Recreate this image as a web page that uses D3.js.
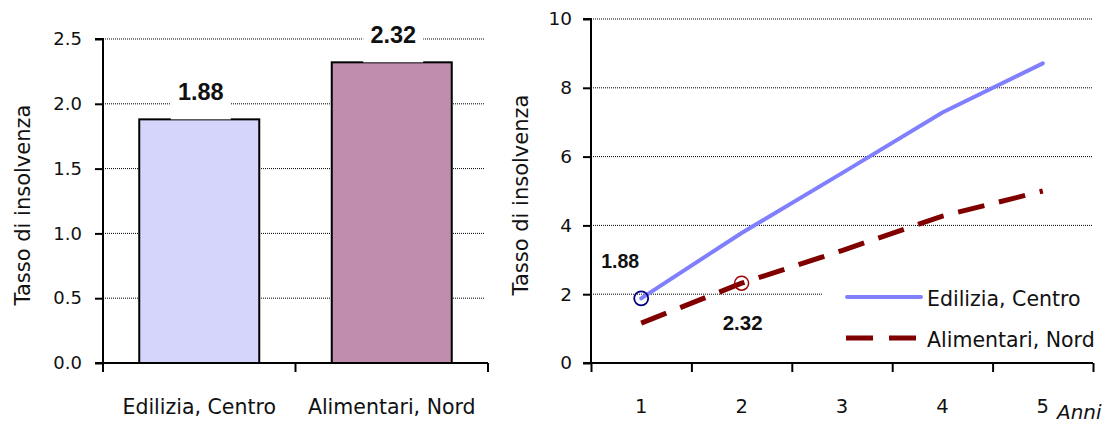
<!DOCTYPE html>
<html><head><meta charset="utf-8">
<script src="https://cdn.jsdelivr.net/npm/d3@7"></script>
<style>
body{margin:0;background:#fff;}
svg{display:block;}
text{font-family:"DejaVu Sans",Verdana,sans-serif;fill:#111;}
.lbl{font-family:"Liberation Sans",Arial,sans-serif;font-weight:bold;}
</style></head>
<body>
<svg id="c" width="1120" height="425"></svg>
<script>
// ---- data ----
const categories = ["Edilizia, Centro", "Alimentari, Nord"];
const barValues = [1.88, 2.32];
const barColors = ["#d5d5fc", "#bf8eae"];
const barTicks = [0, 0.5, 1.0, 1.5, 2.0, 2.5];

const years = [1, 2, 3, 4, 5];
const edilizia = [1.88, 3.78, 5.52, 7.28, 8.71];
const alimentari = [1.16, 2.32, 3.27, 4.27, 5.0];
const lineTicks = [0, 2, 4, 6, 8, 10];
const seriesNames = ["Edilizia, Centro", "Alimentari, Nord"];
const yTitle = "Tasso di insolvenza";

const svg = d3.select("#c");

// ================= LEFT: bar chart =================
const L = {x0: 103, x1: 488, y0: 363, y1: 39};
const xb = d3.scaleBand().domain(categories).range([L.x0, L.x1]);
const yb = d3.scaleLinear().domain([0, 2.5]).range([L.y0, L.y1]);

// gridlines
svg.append("g").selectAll("line").data(barTicks.filter(d => d > 0)).join("line")
  .attr("x1", L.x0).attr("x2", 485)
  .attr("y1", d => yb(d)).attr("y2", d => yb(d))
  .attr("stroke", "#000").attr("stroke-width", 1).attr("stroke-dasharray", "1,1");

// bars
const bw = 120;
svg.append("g").selectAll("rect").data(barValues).join("rect")
  .attr("x", (d, i) => xb(categories[i]) + xb.bandwidth() / 2 - bw / 2)
  .attr("width", bw)
  .attr("y", d => yb(d)).attr("height", d => yb(0) - yb(d))
  .attr("fill", (d, i) => barColors[i])
  .attr("stroke", "#000").attr("stroke-width", 2);

// value labels with white background
const lg = svg.append("g");
barValues.forEach((v, i) => {
  const cx = xb(categories[i]) + xb.bandwidth() / 2 + 1.5;
  lg.append("rect").attr("x", cx - 30).attr("width", 60)
    .attr("y", yb(v) - 42).attr("height", 42).attr("fill", "#fff");
  lg.append("text").attr("class", "lbl").attr("x", cx).attr("y", yb(v) - 19)
    .attr("text-anchor", "middle").style("font-size", "23.5px").text(v.toFixed(2));
});

// axes
const yAxisL = svg.append("g").attr("transform", `translate(${L.x0},0)`)
  .call(d3.axisLeft(yb).tickValues(barTicks).tickFormat(d3.format(".1f")).tickSize(8).tickPadding(13));
const xAxisL = svg.append("g").attr("transform", `translate(0,${L.y0})`)
  .call(d3.axisBottom(xb).tickSize(0).tickPadding(36));
// category boundary ticks
svg.append("g").selectAll("line").data([L.x0, ...categories.map(c => xb(c) + xb.bandwidth())]).join("line")
  .attr("x1", d => d).attr("x2", d => d).attr("y1", L.y0).attr("y2", L.y0 + 9)
  .attr("stroke", "#000").attr("stroke-width", 2);

[yAxisL, xAxisL].forEach(a => {
  a.select(".domain").attr("stroke", "#000").attr("stroke-width", 2);
  a.selectAll(".tick line").attr("stroke", "#000").attr("stroke-width", 2);
  a.selectAll("text").style("font-size", "18px").attr("fill", "#111")
    .style("font-family", '"DejaVu Sans",Verdana,sans-serif');
});
xAxisL.selectAll("text").style("font-size", "20.5px");
yAxisL.select(".domain").attr("d", `M-8,${L.y1}H0V${L.y0}`);
xAxisL.select(".domain").attr("d", `M${L.x0 - 8},0H${L.x1}`);

svg.append("text").attr("transform", `translate(30,205) rotate(-90)`)
  .attr("text-anchor", "middle").style("font-size", "21px").text(yTitle);

// ================= RIGHT: line chart =================
const R = {x0: 591, x1: 1093, y0: 363, y1: 19};
const xl = d3.scaleLinear().domain([0.5, 5.5]).range([R.x0, R.x1]);
const yl = d3.scaleLinear().domain([0, 10]).range([R.y0, R.y1]);

svg.append("g").selectAll("line").data(lineTicks.filter(d => d > 0)).join("line")
  .attr("x1", R.x0).attr("x2", 1092)
  .attr("y1", d => yl(d)).attr("y2", d => yl(d))
  .attr("stroke", "#000").attr("stroke-width", 1).attr("stroke-dasharray", "1,1");

const line = d3.line().x((d, i) => xl(years[i])).y(d => yl(d));

// legend background (covers gridline)
svg.append("rect").attr("x", 823).attr("y", 278).attr("width", 290).attr("height", 80).attr("fill", "#fff");

svg.append("path").datum(alimentari).attr("d", line).attr("fill", "none")
  .attr("stroke", "#800000").attr("stroke-width", 5).attr("stroke-dasharray", "27,15");
svg.append("path").datum(edilizia).attr("d", line).attr("fill", "none")
  .attr("stroke", "#8080ff").attr("stroke-width", 4).attr("stroke-linecap", "round");

// markers
svg.append("circle").attr("cx", xl(years[0])).attr("cy", yl(edilizia[0])).attr("r", 7)
  .attr("fill", "none").attr("stroke", "#000080").attr("stroke-width", 1.8);
svg.append("circle").attr("cx", xl(years[1])).attr("cy", yl(alimentari[1])).attr("r", 7)
  .attr("fill", "none").attr("stroke", "#a00000").attr("stroke-width", 1.5);

// point labels
svg.append("text").attr("class", "lbl").attr("x", xl(years[0]) - 21).attr("y", yl(edilizia[0]) - 30)
  .attr("text-anchor", "middle").style("font-size", "19.5px").text(edilizia[0].toFixed(2));
svg.append("text").attr("class", "lbl").attr("x", xl(years[1]) + 1).attr("y", yl(alimentari[1]) + 47)
  .attr("text-anchor", "middle").style("font-size", "20.5px").text(alimentari[1].toFixed(2));

// axes
const yAxisR = svg.append("g").attr("transform", `translate(${R.x0},0)`)
  .call(d3.axisLeft(yl).tickValues(lineTicks).tickFormat(d3.format("d")).tickSize(8).tickPadding(11));
const xAxisR = svg.append("g").attr("transform", `translate(0,${R.y0})`)
  .call(d3.axisBottom(xl).tickValues([0.5, 1.5, 2.5, 3.5, 4.5, 5.5]).tickFormat("").tickSize(9));
[yAxisR, xAxisR].forEach(a => {
  a.select(".domain").attr("stroke", "#000").attr("stroke-width", 2);
  a.selectAll(".tick line").attr("stroke", "#000").attr("stroke-width", 2);
  a.selectAll("text").style("font-size", "18.5px").attr("fill", "#111")
    .style("font-family", '"DejaVu Sans",Verdana,sans-serif');
});
yAxisR.select(".domain").attr("d", `M-8,${R.y1}H0V${R.y0}`);
xAxisR.select(".domain").attr("d", `M${R.x0 - 8},0H${R.x1}`);

svg.append("g").selectAll("text").data(years).join("text")
  .attr("x", d => xl(d)).attr("y", 413).attr("text-anchor", "middle")
  .style("font-size", "19.5px").text(d => d);
svg.append("text").attr("x", 1057).attr("y", 419).style("font-size", "20px")
  .style("font-style", "italic").text("Anni");

svg.append("text").attr("transform", `translate(528,195) rotate(-90)`)
  .attr("text-anchor", "middle").style("font-size", "21px").text(yTitle);

// legend
const leg = svg.append("g");
leg.append("line").attr("x1", 847).attr("x2", 921).attr("y1", 297).attr("y2", 297)
  .attr("stroke", "#8080ff").attr("stroke-width", 4).attr("stroke-linecap", "round");
leg.append("line").attr("x1", 846).attr("x2", 920).attr("y1", 338).attr("y2", 338)
  .attr("stroke", "#800000").attr("stroke-width", 5).attr("stroke-dasharray", "27,16");
leg.selectAll("text").data(seriesNames).join("text")
  .attr("x", 927).attr("y", (d, i) => 306 + i * 41)
  .style("font-size", "20.5px").text(d => d);
</script>
</body></html>
